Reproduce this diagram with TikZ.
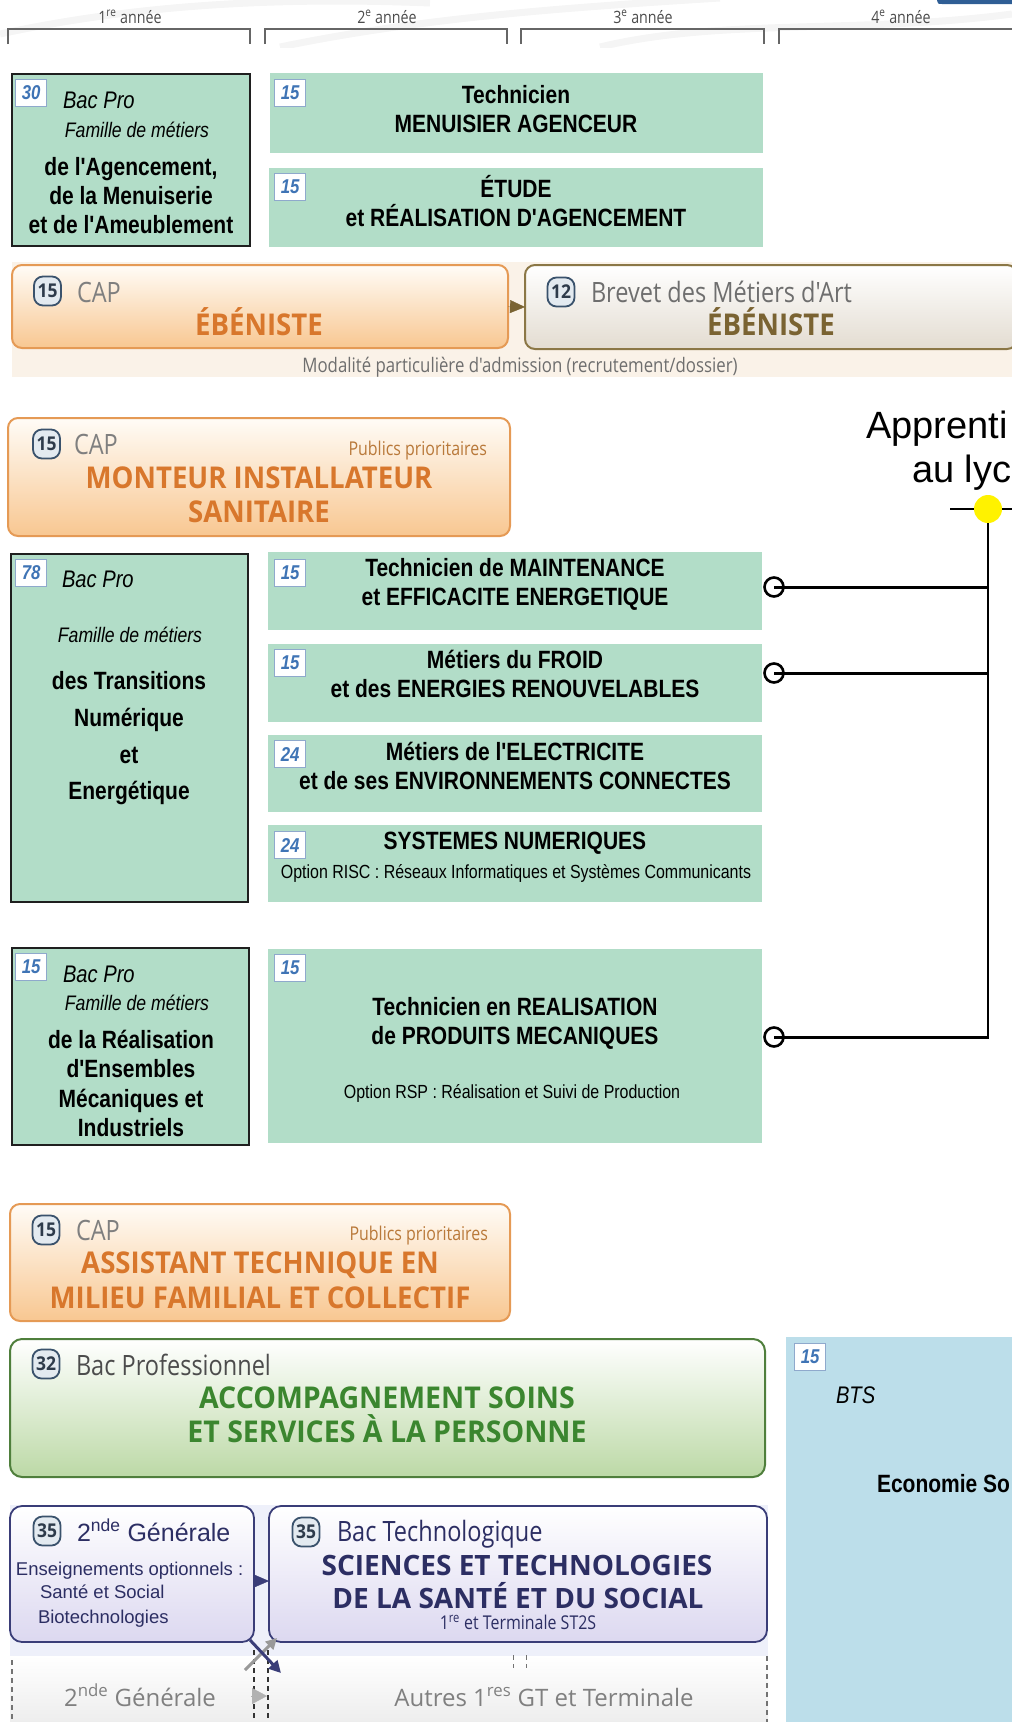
\documentclass[tikz,border=0pt]{standalone}
\usepackage{fontspec}
\setmainfont{Liberation Sans}
\newfontfamily\ar[FakeStretch=0.84]{Liberation Sans}
\newfontfamily\arw{Liberation Sans}
\newfontfamily\my[FakeStretch=0.84]{Open Sans}
\newfontfamily\myb[FakeStretch=0.92]{Open Sans}
\newfontfamily\myc[FakeStretch=0.95]{Open Sans}
\newfontfamily\myw{Open Sans}
\usetikzlibrary{arrows.meta}
\definecolor{gfill}{HTML}{B2DDC8}
\definecolor{badgeB}{HTML}{8FA9CC}
\definecolor{badgeT}{HTML}{3F74B5}
\definecolor{orBorder}{HTML}{E59A55}
\definecolor{orTop}{HTML}{FFFCF7}
\definecolor{orBot}{HTML}{F8C791}
\definecolor{orText}{HTML}{D8772C}
\definecolor{pubText}{HTML}{B9793A}
\definecolor{capGray}{HTML}{7F7F7F}
\definecolor{cbFill}{HTML}{E3EAF0}
\definecolor{cbBorder}{HTML}{3A526C}
\definecolor{cbText}{HTML}{2E3B4B}
\definecolor{ebBand}{HTML}{FAF2E8}
\definecolor{brBorder}{HTML}{8B7746}
\definecolor{brBot}{HTML}{E3DCD1}
\definecolor{brText}{HTML}{7A6332}
\definecolor{brGray}{HTML}{6E6E6E}
\definecolor{grBorder}{HTML}{4F7F3C}
\definecolor{grBot}{HTML}{BCD9A6}
\definecolor{grText}{HTML}{3B862F}
\definecolor{navy}{HTML}{3A3D78}
\definecolor{navyText}{HTML}{2C2E63}
\definecolor{lavBot}{HTML}{DCD8F0}
\definecolor{lavBand}{HTML}{EEF0FA}
\definecolor{btsBlue}{HTML}{BCDEEA}
\definecolor{hdrBlue}{HTML}{2F5E95}
\begin{document}
\begin{tikzpicture}[x=1pt,y=-1pt,
  txt/.style={inner sep=0pt,outer sep=0pt,anchor=base},
  txtl/.style={txt,anchor=base west},
  txtr/.style={txt,anchor=base east},
  gbox/.style={fill=gfill,inner sep=0pt,outer sep=0pt,anchor=north west},
  fbox/.style={gbox,draw=black!88,line width=2pt},
  badge/.style={draw=badgeB,fill=white,line width=1.2pt,minimum width=31pt,minimum height=27pt,inner sep=0pt,anchor=north west,text=badgeT,font=\ar\bfseries\itshape\fontsize{20}{20}\selectfont},
  capbox/.style={rounded corners=10pt,draw=orBorder,line width=2pt,top color=orTop,bottom color=orBot,inner sep=0pt,outer sep=0pt,anchor=north west},
  cbadge/.style={rounded corners=9pt,draw=cbBorder,line width=1.8pt,fill=cbFill,minimum width=27pt,minimum height=29pt,inner sep=0pt,text=cbText,font=\myb\bfseries\fontsize{19}{19}\selectfont},
  gT/.style={txt,font=\ar\bfseries\fontsize{25}{25}\selectfont},
  gI/.style={txt,font=\ar\itshape\fontsize{21}{21}\selectfont},
  gBac/.style={txtl,font=\ar\itshape\fontsize{24}{24}\selectfont},
  gS/.style={txt,font=\ar\fontsize{19}{19}\selectfont},
  capL/.style={txtl,text=capGray,font=\my\fontsize{28}{28}\selectfont},
  pub/.style={txtr,text=pubText,font=\my\fontsize{19}{19}\selectfont},
  orT/.style={txt,text=orText,font=\myb\bfseries\fontsize{30}{30}\selectfont},
  hdr/.style={txt,text=black!70,font=\my\fontsize{17}{17}\selectfont},
  bracket/.style={draw=black!60,line width=1.5pt},
  conn/.style={line width=3pt,black},
  ring/.style={circle,draw=black,line width=2.6pt,minimum size=19pt,inner sep=0pt},
  swirl/.style={line width=7pt,color=black!4},
  dsh/.style={dashed,dash pattern=on 5pt off 4pt,line width=1.2pt}]
\useasboundingbox (0,0) rectangle (1012,1722);
\clip (0,0) rectangle (1012,1722);
% ---------- header ----------
\begin{scope}
\clip (0,0) rectangle (1012,47);
\draw[swirl] (0,34) .. controls (120,8) and (260,-4) .. (430,3);
\draw[swirl] (280,47) .. controls (420,18) and (560,8) .. (720,-2);
\draw[swirl] (600,47) .. controls (720,18) and (860,34) .. (1012,14);
\end{scope}
\fill[hdrBlue] (937,0) -- (1012,0) -- (1012,4) -- (942,4) .. controls (938,4) .. (937,0) -- cycle;
\node[hdr] (h1) at (130,23) {1\textsuperscript{re} année};
\node[hdr] (h2) at (387,23) {2\textsuperscript{e} année};
\node[hdr] (h3) at (643,23) {3\textsuperscript{e} année};
\node[hdr] (h4) at (901,23) {4\textsuperscript{e} année};
\draw[bracket] (8,44) -- (8,29) -- (250,29) -- (250,44);
\draw[bracket] (265,44) -- (265,29) -- (507,29) -- (507,44);
\draw[bracket] (521,44) -- (521,29) -- (764,29) -- (764,44);
\draw[bracket] (779,44) -- (779,29) -- (1030,29);
% ---------- section 1 ----------
\node[fbox,minimum width=238pt,minimum height=172pt] (fam30) at (12,74) {};
\node[badge] (b30) at (15,79) {30};
\node[gBac] (f30a) at (63,108) {Bac Pro};
\node[gI] (f30b) at (137,137) {Famille de métiers};
\node[gT] (f30c) at (131,175) {de l'Agencement,};
\node[gT] (f30d) at (131,204) {de la Menuiserie};
\node[gT] (f30e) at (131,233) {et de l'Ameublement};
\node[gbox,minimum width=493pt,minimum height=80pt] (tmen) at (270,73) {};
\node[badge] (btmen) at (274,79) {15};
\node[gT] (tmena) at (516,103) {Technicien};
\node[gT] (tmenb) at (516,132) {MENUISIER AGENCEUR};
\node[gbox,minimum width=494pt,minimum height=79pt] (etu) at (269,168) {};
\node[badge] (betu) at (274,173) {15};
\node[gT] (etua) at (516,197) {ÉTUDE};
\node[gT] (etub) at (516,226) {et RÉALISATION D'AGENCEMENT};
% band ebeniste
\fill[ebBand] (12,262) rectangle (1012,377);
\node[capbox,minimum width=496pt,minimum height=83pt] (capEb) at (12,265) {};
\node[cbadge] (cbEb) at (47.5,291) {15};
\node[capL] (capEbA) at (77,302) {CAP};
\node[orT] (capEbB) at (259,335) {ÉBÉNISTE};
\node[rounded corners=10pt,draw=brBorder,line width=2pt,top color=white,bottom color=brBot,inner sep=0pt,outer sep=0pt,anchor=north west,minimum width=492pt,minimum height=84pt] (brev) at (525,265) {};
\node[cbadge] (cbBr) at (561,292) {12};
\node[txtl,text=brGray,font=\my\fontsize{28}{28}\selectfont] (brevA) at (591,302) {Brevet des Métiers d'Art};
\node[orT,text=brText] (brevB) at (771,335) {ÉBÉNISTE};
\draw[brText,line width=0.3pt,-{Triangle[length=15pt,width=13pt]}] (capEb.east) -- (brev.west);
\node[txt,text=brGray,font=\my\fontsize{20}{20}\selectfont] (moda) at (520,372) {Modalité particulière d'admission (recrutement/dossier)};
% ---------- section 2 ----------
\node[txtl,font=\arw\fontsize{38}{38}\selectfont] (appA) at (866,438) {Apprenti};
\node[txtl,font=\arw\fontsize{38}{38}\selectfont] (appB) at (912,482) {au lyc};
\node[circle,fill=yellow,minimum size=28pt,inner sep=0pt] (yd) at (988,509) {};
\coordinate (hl) at (950,509);
\coordinate (hr) at (1012,509);
\draw[line width=2pt] (hl) -- (yd.west);
\draw[line width=2pt] (yd.east) -- (hr);
\coordinate (j1) at (988,587);
\coordinate (j2) at (988,673);
\coordinate (j3) at (988,1037);
\draw[line width=2.6pt] (yd.south) -- (j3);
\node[ring] (c1) at (774,587) {};
\node[ring] (c2) at (774,673) {};
\node[ring] (c3) at (774,1037) {};
\draw[conn] (c1.center) -- (j1);
\draw[conn] (c2.center) -- (j2);
\draw[conn] (c3.center) -- ([xshift=1.3pt]j3);
\node[capbox,minimum width=502pt,minimum height=118pt] (capMon) at (8,418) {};
\node[cbadge] (cbMon) at (46.5,444) {15};
\node[capL] (capMonA) at (74,454) {CAP};
\node[pub] (capMonP) at (487,455) {Publics prioritaires};
\node[orT] (capMonB) at (259,488) {MONTEUR INSTALLATEUR};
\node[orT] (capMonC) at (259,522) {SANITAIRE};
\node[fbox,minimum width=237pt,minimum height=348pt] (fam78) at (11,554) {};
\node[badge] (b78) at (15,559) {78};
\node[gBac] (f78a) at (62,587) {Bac Pro};
\node[gI] (f78b) at (130,642) {Famille de métiers};
\node[gT] (f78c) at (129,689) {des Transitions};
\node[gT] (f78d) at (129,726) {Numérique};
\node[gT] (f78e) at (129,763) {et};
\node[gT] (f78f) at (129,799) {Energétique};
\node[gbox,minimum width=494pt,minimum height=78pt] (mai) at (268,552) {};
\node[badge] (bmai) at (274,559) {15};
\node[gT] (maiA) at (515,576) {Technicien de MAINTENANCE};
\node[gT] (maiB) at (515,605) {et EFFICACITE ENERGETIQUE};
\node[gbox,minimum width=494pt,minimum height=78pt] (fro) at (268,644) {};
\node[badge] (bfro) at (274,649) {15};
\node[gT] (froA) at (515,668) {Métiers du FROID};
\node[gT] (froB) at (515,697) {et des ENERGIES RENOUVELABLES};
\node[gbox,minimum width=494pt,minimum height=77pt] (ele) at (268,735) {};
\node[badge] (bele) at (274,740) {24};
\node[gT] (eleA) at (515,760) {Métiers de l'ELECTRICITE};
\node[gT] (eleB) at (515,789) {et de ses ENVIRONNEMENTS CONNECTES};
\node[gbox,minimum width=494pt,minimum height=77pt] (sn) at (268,825) {};
\node[badge] (bsn) at (274,831) {24};
\node[gT] (snA) at (515,849) {SYSTEMES NUMERIQUES};
\node[gS] (snB) at (516,878) {Option RISC : Réseaux Informatiques et Systèmes Communicants};
% ---------- section 3 ----------
\node[fbox,minimum width=237pt,minimum height=197pt] (fam15) at (12,948) {};
\node[badge] (b15) at (15,953) {15};
\node[gBac] (f15a) at (63,982) {Bac Pro};
\node[gI] (f15b) at (137,1010) {Famille de métiers};
\node[gT] (f15c) at (131,1048) {de la Réalisation};
\node[gT] (f15d) at (131,1077) {d'Ensembles};
\node[gT] (f15e) at (131,1107) {Mécaniques et};
\node[gT] (f15f) at (131,1136) {Industriels};
\node[gbox,minimum width=494pt,minimum height=194pt] (rea) at (268,949) {};
\node[badge] (brea) at (274,954) {15};
\node[gT] (reaA) at (515,1015) {Technicien en REALISATION};
\node[gT] (reaB) at (515,1044) {de PRODUITS MECANIQUES};
\node[gS] (reaC) at (512,1098) {Option RSP : Réalisation et Suivi de Production};
\node[capbox,minimum width=500pt,minimum height=117pt] (capAs) at (10,1204) {};
\node[cbadge] (cbAs) at (46,1230) {15};
\node[capL] (capAsA) at (76,1240) {CAP};
\node[pub] (capAsP) at (488,1240) {Publics prioritaires};
\node[orT] (capAsB) at (260,1273) {ASSISTANT TECHNIQUE EN};
\node[orT] (capAsC) at (260,1308) {MILIEU FAMILIAL ET COLLECTIF};
% ---------- section 4 ----------
\node[rounded corners=12pt,draw=grBorder,line width=2pt,top color=white,bottom color=grBot,inner sep=0pt,outer sep=0pt,anchor=north west,minimum width=755pt,minimum height=138pt] (assp) at (10,1339) {};
\node[cbadge] (cbAssp) at (46,1364) {32};
\node[txtl,text=black!70,font=\my\fontsize{28}{28}\selectfont] (asspA) at (76,1375) {Bac Professionnel};
\node[txt,text=grText,font=\myc\bfseries\fontsize{30}{30}\selectfont] (asspB) at (387,1408) {ACCOMPAGNEMENT SOINS};
\node[txt,text=grText,font=\myc\bfseries\fontsize{30}{30}\selectfont] (asspC) at (387,1442) {ET SERVICES À LA PERSONNE};
\node[fill=btsBlue,inner sep=0pt,outer sep=0pt,anchor=north west,minimum width=240pt,minimum height=400pt] (bts) at (786,1337) {};
\node[badge] (bbts) at (794,1343) {15};
\node[gBac] (btsA) at (836,1403) {BTS};
\node[txtl,font=\ar\bfseries\fontsize{25}{25}\selectfont] (btsB) at (877,1492) {Economie So};
\fill[lavBand] (10,1505) rectangle (768,1656);
\node[inner sep=0pt,outer sep=0pt,anchor=north west,minimum width=758pt,minimum height=66pt,top color=white,bottom color=black!7] (low) at (10,1656) {};
\node[rounded corners=12pt,draw=navy,line width=1.8pt,top color=white,bottom color=lavBot,inner sep=0pt,outer sep=0pt,anchor=north west,minimum width=244pt,minimum height=136pt] (sec) at (10,1506) {};
\node[cbadge] (cbSec) at (47,1531) {35};
\node[txtl,text=navyText,font=\arw\fontsize{25}{25}\selectfont] (secA) at (77,1541) {2\textsuperscript{nde} Générale};
\node[txtl,text=navyText,font=\arw\fontsize{18.5}{18.5}\selectfont] (secB) at (16,1575) {Enseignements optionnels :};
\node[txtl,text=navyText,font=\arw\fontsize{18.5}{18.5}\selectfont] (secC) at (40,1598) {Santé et Social};
\node[txtl,text=navyText,font=\arw\fontsize{18.5}{18.5}\selectfont] (secD) at (38,1623) {Biotechnologies};
\node[rounded corners=12pt,draw=navy,line width=1.8pt,top color=white,bottom color=lavBot,inner sep=0pt,outer sep=0pt,anchor=north west,minimum width=498pt,minimum height=136pt] (bt) at (269,1506) {};
\node[cbadge] (cbBt) at (306,1532) {35};
\node[txtl,text=navyText,font=\my\fontsize{28}{28}\selectfont] (btA) at (337,1541) {Bac Technologique};
\node[txt,text=navyText,font=\myw\bfseries\fontsize{28}{28}\selectfont] (btB) at (517,1575) {SCIENCES ET TECHNOLOGIES};
\node[txt,text=navyText,font=\myw\bfseries\fontsize{28}{28}\selectfont] (btC) at (518,1608) {DE LA SANTÉ ET DU SOCIAL};
\node[txt,text=navyText,font=\my\fontsize{19}{19}\selectfont] (btD) at (518,1629) {1\textsuperscript{re} et Terminale ST2S};
\draw[navy,line width=0.3pt,-{Triangle[length=14pt,width=12pt]}] ([yshift=-7pt]sec.east) -- ([yshift=-7pt]bt.west);
% lower dashed area
\coordinate (d1a) at (12,1660);  \coordinate (d1b) at (12,1722);
\coordinate (d2a) at (254,1650); \coordinate (d2b) at (254,1722);
\coordinate (d3a) at (268,1650); \coordinate (d3b) at (268,1722);
\coordinate (d4a) at (767,1656); \coordinate (d4b) at (767,1722);
\coordinate (d5a) at (513,1655); \coordinate (d5b) at (513,1668);
\coordinate (d6a) at (526,1655); \coordinate (d6b) at (526,1668);
\draw[dsh,black!55] (d1a) -- (d1b);
\draw[dsh,black!80] (d2a) -- (d2b);
\draw[dsh,black!80] (d3a) -- (d3b);
\draw[dsh,black!55] (d4a) -- (d4b);
\draw[dsh,black!55,line width=1pt] (d5a) -- (d5b);
\draw[dsh,black!55,line width=1pt] (d6a) -- (d6b);
\node[txt,text=black!50,font=\myw\fontsize{24}{24}\selectfont] (lowA) at (140,1706) {2\textsuperscript{nde} Générale};
\node[txt,text=black!50,font=\myw\fontsize{24}{24}\selectfont] (lowB) at (544,1706) {Autres 1\textsuperscript{res} GT et Terminale};
\coordinate (ga) at (251,1696);
\coordinate (gb) at (267,1696);
\draw[black!30,line width=0.3pt,-{Triangle[length=15pt,width=16pt]}] (ga) -- (gb);
\coordinate (g1) at (245,1670);
\coordinate (g2) at (277,1638);
\draw[black!40,line width=3pt,-{Triangle[length=11pt,width=11pt]}] (g1) -- (g2);
\coordinate (n1) at (250,1640);
\coordinate (n2) at (281,1673);
\draw[navy,line width=3pt,-{Triangle[length=12pt,width=12pt]}] (n1) -- (n2);
\end{tikzpicture}
\end{document}
